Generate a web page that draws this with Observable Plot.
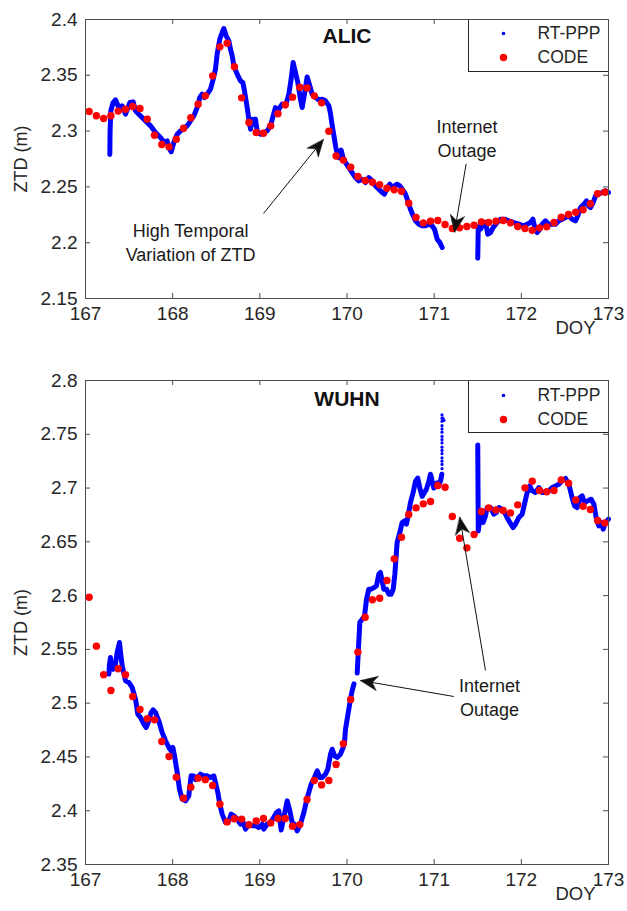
<!DOCTYPE html>
<html>
<head>
<meta charset="utf-8">
<script src="https://cdn.jsdelivr.net/npm/d3@7"></script>
<script src="https://cdn.jsdelivr.net/npm/@observablehq/plot@0.6"></script>
<style>
  html, body { margin: 0; padding: 0; background: #fff; }
  #chart { width: 627px; height: 911px; font-family: "Liberation Sans", Arial, sans-serif; }
  #chart svg { display: block; }
</style>
</head>
<body>
<div id="chart"></div>
<script>
// ---------- data ----------
const stationNames = ["ALIC", "WUHN"];
const seriesNames = ["RT-PPP", "CODE"];
const xTicks = [167, 168, 169, 170, 171, 172, 173];
const alicYTicks = [2.15, 2.2, 2.25, 2.3, 2.35, 2.4];
const wuhnYTicks = [2.35, 2.4, 2.45, 2.5, 2.55, 2.6, 2.65, 2.7, 2.75, 2.8];

// CODE epochs (DOY)
const codeDoy = [
  167.0417, 167.125, 167.2083, 167.2917, 167.375, 167.4583, 167.5417, 167.625, 167.7083, 167.7917, 167.875, 167.9583,
  168.0417, 168.125, 168.2083, 168.2917, 168.375, 168.4583, 168.5417, 168.625, 168.7083, 168.7917, 168.875, 168.9583,
  169.0417, 169.125, 169.2083, 169.2917, 169.375, 169.4583, 169.5417, 169.625, 169.7083, 169.7917, 169.875, 169.9583,
  170.0417, 170.125, 170.2083, 170.2917, 170.375, 170.4583, 170.5417, 170.625, 170.7083, 170.7917, 170.875, 170.9583,
  171.0417, 171.125, 171.2083, 171.2917, 171.375, 171.4583, 171.5417, 171.625, 171.7083, 171.7917, 171.875, 171.9583,
  172.0417, 172.125, 172.2083, 172.2917, 172.375, 172.4583, 172.5417, 172.625, 172.7083, 172.7917, 172.875, 172.9583
];
const alicCodeZtd = [
  2.3176, 2.3137, 2.3113, 2.3137, 2.3179, 2.3196, 2.3220, 2.3202, 2.3107, 2.2963, 2.2880, 2.2859,
  2.2927, 2.3026, 2.3119, 2.3241, 2.3316, 2.3495, 2.3755, 2.3788, 2.3576, 2.3298, 2.3077, 2.2987,
  2.2981, 2.3047, 2.3155, 2.3236, 2.3304, 2.3393, 2.3386, 2.3316, 2.3253, 2.2999, 2.2777, 2.2740,
  2.2677, 2.2593, 2.2557, 2.2542, 2.2519, 2.2488, 2.2474, 2.2461, 2.2354, 2.2226, 2.2178, 2.2193,
  2.2199, 2.2163, 2.2127, 2.2133, 2.2145, 2.2157, 2.2187, 2.2181, 2.2193, 2.2199, 2.2178, 2.2145,
  2.2127, 2.2112, 2.2133, 2.2142, 2.2181, 2.2229, 2.2253, 2.2273, 2.2295, 2.2349, 2.2438, 2.2452
];
const wuhnCodeZtd = [
  2.5985, 2.5530, 2.5264, 2.5118, 2.5320, 2.5264, 2.5062, 2.4942, 2.4855, 2.4845, 2.4644, 2.4504,
  2.4312, 2.4117, 2.4219, 2.4303, 2.4289, 2.4234, 2.4060, 2.3896, 2.3925, 2.3922, 2.3870, 2.3905,
  2.3927, 2.3887, 2.3927, 2.3927, 2.3855, 2.3871, 2.4105, 2.4281, 2.4240, 2.4281, 2.4430, 2.4622,
  2.5034, 2.5475, 2.5799, 2.5961, 2.5976, 2.6140, 2.6342, 2.6543, 2.6754, 2.6816, 2.6853, 2.6875,
  2.7024, 2.7008, 2.6735, 2.6534, 2.6444, 2.6568, 2.6782, 2.6816, 2.6797, 2.6791, 2.6769, 2.6844,
  2.7002, 2.7064, 2.6977, 2.6965, 2.6977, 2.7076, 2.7045, 2.6890, 2.6831, 2.6800, 2.6698, 2.6676
];

// RT-PPP (null = outage gap)
const alicRtDoy = [
  167.279, 167.282, 167.290, 167.317, 167.344, 167.394, 167.421, 167.459, 167.509, 167.547, 167.574, 167.612,
  167.669, 167.707, 167.746, 167.803, 167.860, 167.906, 167.937, 167.956, 167.983, 168.013, 168.052, 168.090,
  168.128, 168.166, 168.205, 168.243, 168.281, 168.312, 168.338, 168.365, 168.396, 168.434, 168.465, 168.491,
  168.510, 168.541, 168.568, 168.587, 168.614, 168.644, 168.663, 168.683, 168.702, 168.740, 168.778, 168.805,
  168.824, 168.855, 168.874, 168.893, 168.912, 168.931, 168.950, 168.969, 169.008, 169.046, 169.084, 169.122,
  169.153, 169.180, 169.199, 169.218, 169.256, 169.294, 169.333, 169.359, 169.382, 169.409, 169.436, 169.466,
  169.486, 169.512, 169.543, 169.573, 169.600, 169.639, 169.677, 169.715, 169.753, 169.792, 169.810, 169.830,
  169.850, 169.870, 169.890, 169.910, 169.933, 169.955, 169.983, 170.021, 170.059, 170.097, 170.136, 170.174,
  170.212, 170.250, 170.289, 170.327, 170.365, 170.403, 170.430, 170.461, 170.491, 170.518, 170.545, 170.575,
  170.606, 170.633, 170.671, 170.698, 170.728, 170.759, 170.786, 170.824, 170.862, 170.900, 170.939, 170.977,
  171.004, 171.034, 171.065, 171.092, 171.300,
  171.500, 171.503, 171.506, 171.531, 171.562, 171.589, 171.615, 171.646, 171.677, 171.723, 171.761, 171.807,
  171.857, 171.914, 171.971, 172.029, 172.067, 172.105, 172.132, 172.155, 172.182, 172.212, 172.239, 172.277,
  172.315, 172.354, 172.392, 172.430, 172.468, 172.507, 172.545, 172.583, 172.621, 172.648, 172.679, 172.717,
  172.748, 172.770, 172.793, 172.824, 172.851, 172.881, 172.927, 172.965, 173.000
];
const alicRtZtd = [
  2.2790, 2.3000, 2.3180, 2.3256, 2.3280, 2.3190, 2.3226, 2.3152, 2.3256, 2.3262, 2.3182, 2.3152,
  2.3107, 2.3077, 2.3047, 2.2987, 2.2943, 2.2898, 2.2913, 2.2853, 2.2815, 2.2898, 2.2972, 2.3002,
  2.3017, 2.3047, 2.3092, 2.3137, 2.3211, 2.3301, 2.3331, 2.3301, 2.3331, 2.3376, 2.3465, 2.3555,
  2.3689, 2.3824, 2.3883, 2.3919, 2.3854, 2.3809, 2.3734, 2.3674, 2.3585, 2.3510, 2.3450, 2.3435,
  2.3361, 2.3211, 2.3107, 2.3017, 2.3107, 2.3062, 2.3107, 2.3002, 2.2972, 2.2987, 2.3002, 2.3047,
  2.3137, 2.3211, 2.3152, 2.3196, 2.3241, 2.3226, 2.3331, 2.3465, 2.3615, 2.3525, 2.3435, 2.3286,
  2.3211, 2.3331, 2.3485, 2.3406, 2.3330, 2.3301, 2.3280, 2.3286, 2.3271, 2.3226, 2.3160, 2.3050,
  2.2960, 2.2860, 2.2790, 2.2760, 2.2830, 2.2760, 2.2718, 2.2674, 2.2629, 2.2584, 2.2554, 2.2569,
  2.2539, 2.2584, 2.2554, 2.2509, 2.2480, 2.2450, 2.2435, 2.2494, 2.2524, 2.2494, 2.2509, 2.2524,
  2.2509, 2.2480, 2.2435, 2.2375, 2.2300, 2.2241, 2.2196, 2.2166, 2.2151, 2.2151, 2.2166, 2.2151,
  2.2121, 2.2031, 2.2002, 2.1957, null,
  2.1860, 2.2000, 2.2142, 2.2121, 2.2166, 2.2181, 2.2076, 2.2091, 2.2136, 2.2181, 2.2211, 2.2211,
  2.2196, 2.2181, 2.2166, 2.2151, 2.2166, 2.2181, 2.2211, 2.2136, 2.2091, 2.2121, 2.2166, 2.2196,
  2.2166, 2.2166, 2.2166, 2.2196, 2.2211, 2.2226, 2.2241, 2.2211, 2.2196, 2.2241, 2.2315, 2.2345,
  2.2375, 2.2330, 2.2315, 2.2360, 2.2420, 2.2435, 2.2450, 2.2465, 2.2450
];

const wuhnRtDoy = [
  167.268, 167.275, 167.287, 167.300, 167.317, 167.344, 167.363, 167.390, 167.405, 167.421, 167.459, 167.497,
  167.535, 167.574, 167.600, 167.631, 167.669, 167.696, 167.727, 167.753, 167.776, 167.803, 167.841, 167.879,
  167.918, 167.956, 167.983, 168.002, 168.021, 168.052, 168.078, 168.109, 168.147, 168.185, 168.212, 168.243,
  168.262, 168.281, 168.319, 168.357, 168.396, 168.434, 168.472, 168.491, 168.518, 168.541, 168.568, 168.606,
  168.644, 168.671, 168.702, 168.740, 168.778, 168.809, 168.836, 168.874, 168.912, 168.950, 168.988, 169.027,
  169.046, 169.084, 169.122, 169.160, 169.191, 169.218, 169.245, 169.275, 169.314, 169.344, 169.371, 169.398,
  169.428, 169.466, 169.505, 169.535, 169.562, 169.589, 169.627, 169.658, 169.688, 169.715, 169.753, 169.780,
  169.811, 169.830, 169.857, 169.887, 169.925, 169.956, 169.971, 169.983, 170.002, 170.021, 170.040, 170.059,
  170.080, 170.100,
  170.117, 170.136, 170.147, 170.174, 170.201, 170.224, 170.250, 170.277, 170.308, 170.338, 170.365, 170.384,
  170.403, 170.422, 170.453, 170.480, 170.507, 170.530, 170.549, 170.575, 170.606, 170.633, 170.660, 170.682,
  170.698, 170.728, 170.759, 170.786, 170.812, 170.835, 170.862, 170.889, 170.912, 170.939, 170.958, 170.977,
  170.996, 171.015, 171.034, 171.053, 171.073, 171.088, 171.300,
  171.500, 171.503, 171.506, 171.531, 171.562, 171.589, 171.608, 171.646, 171.684, 171.715, 171.742, 171.780,
  171.807, 171.837, 171.868, 171.906, 171.933, 171.971, 172.009, 172.036, 172.067, 172.097, 172.124, 172.162,
  172.200, 172.239, 172.277, 172.315, 172.354, 172.392, 172.430, 172.468, 172.507, 172.545, 172.583, 172.610,
  172.641, 172.671, 172.698, 172.725, 172.763, 172.801, 172.832, 172.862, 172.889, 172.916, 172.939, 172.965,
  173.000
];
const wuhnRtZtd = [
  2.5270, 2.5360, 2.5425, 2.5330, 2.5316, 2.5363, 2.5471, 2.5564, 2.5450, 2.5347, 2.5208, 2.5193,
  2.5146, 2.5038, 2.4898, 2.4867, 2.4805, 2.4774, 2.4836, 2.4914, 2.4938, 2.4914, 2.4836, 2.4728,
  2.4650, 2.4588, 2.4557, 2.4588, 2.4511, 2.4356, 2.4201, 2.4108, 2.4092, 2.4139, 2.4325, 2.4324,
  2.4290, 2.4309, 2.4340, 2.4324, 2.4324, 2.4309, 2.4324, 2.4262, 2.4170, 2.4061, 2.3968, 2.3891,
  2.3906, 2.3968, 2.3953, 2.3922, 2.3875, 2.3891, 2.3829, 2.3875, 2.3860, 2.3860, 2.3844, 2.3875,
  2.3829, 2.3875, 2.3891, 2.3937, 2.3984, 2.3999, 2.3820, 2.3937, 2.4092, 2.3999, 2.3891, 2.3875,
  2.3813, 2.3875, 2.3984, 2.4092, 2.4170, 2.4247, 2.4309, 2.4371, 2.4309, 2.4309, 2.4340, 2.4386,
  2.4526, 2.4572, 2.4510, 2.4495, 2.4526, 2.4588, 2.4634, 2.4759, 2.4852, 2.4945, 2.5038, 2.5115,
  2.5180, null,
  2.5280, 2.5580, 2.5750, 2.5781, 2.5812, 2.5967, 2.6060, 2.6060, 2.6075, 2.6091, 2.6199, 2.6215,
  2.6137, 2.6060, 2.6060, 2.6013, 2.6013, 2.6060, 2.6199, 2.6494, 2.6587, 2.6680, 2.6695, 2.6664,
  2.6726, 2.6865, 2.6959, 2.7064, 2.7093, 2.7000, 2.6923, 2.6959, 2.6990, 2.7064, 2.7129, 2.7064,
  2.7000, 2.7031, 2.7048, 2.7031, 2.7064, 2.7129, null,
  2.7400, 2.7000, 2.6600, 2.6773, 2.6680, 2.6742, 2.6819, 2.6819, 2.6757, 2.6773, 2.6819, 2.6804,
  2.6773, 2.6726, 2.6680, 2.6633, 2.6664, 2.6726, 2.6757, 2.6850, 2.6959, 2.7020, 2.6974, 2.6959,
  2.7005, 2.6959, 2.6959, 2.6974, 2.7005, 2.7020, 2.7036, 2.7067, 2.7089, 2.7036, 2.6909, 2.6835,
  2.6819, 2.6912, 2.6927, 2.6865, 2.6881, 2.6896, 2.6850, 2.6711, 2.6649, 2.6680, 2.6618, 2.6680,
  2.6711
];
// sparse RT-PPP epochs just before the WUHN outage (converging spike)
const wuhnSpikeDoy = [
  171.090, 171.090, 171.090, 171.090, 171.090, 171.090, 171.090, 171.090, 171.090,
  171.090, 171.090, 171.090, 171.090, 171.090, 171.090, 171.090, 171.100, 171.112
];
const wuhnSpikeZtd = [
  2.768, 2.765, 2.762, 2.758, 2.755, 2.752, 2.748, 2.745, 2.742,
  2.738, 2.735, 2.732, 2.728, 2.725, 2.722, 2.718, 2.765, 2.763
];

// annotations (anchor positions in data units)
const alicNotes = [
  {label: "High Temporal\nVariation of ZTD", doy: 168.205, ztd: 2.2013},
  {label: "Internet\nOutage", doy: 171.376, ztd: 2.2943}
];
const alicArrows = [
  {doy1: 169.042, ztd1: 2.2262, doy2: 169.730, ztd2: 2.2925},
  {doy1: 171.367, ztd1: 2.2707, doy2: 171.233, ztd2: 2.2094}
];
const wuhnNotes = [
  {label: "Internet\nOutage", doy: 171.635, ztd: 2.5062}
];
const wuhnArrows = [
  {doy1: 171.225, ztd1: 2.5062, doy2: 170.155, ztd2: 2.5211},
  {doy1: 171.589, ztd1: 2.5304, doy2: 171.294, ztd2: 2.6729}
];

// ---------- drawing ----------
const W = 627, ML = 85, MR = 19;
const FONT = "'Liberation Sans', Arial, Helvetica, sans-serif";
const INK = "#262626";
const AXIS = "#4d4d4d";

const headShape = {
  draw(context, l) {
    const w = l * 0.42;
    context.moveTo(0, -l);
    context.lineTo(w, 0);
    context.lineTo(0, -l * 0.3);
    context.lineTo(-w, 0);
    context.closePath();
  }
};

function panel(cfg, filledHeads) {
  const innerH = cfg.height - cfg.marginTop - cfg.marginBottom;
  const innerW = W - ML - MR;
  const yDomain = [cfg.yTicks[0], cfg.yTicks[cfg.yTicks.length - 1]];
  const rt = cfg.rtDoy.map((d, i) => ({doy: d, ztd: cfg.rtZtd[i]}));
  const code = codeDoy.map((d, i) => ({doy: d, ztd: cfg.codeZtd[i]}));
  const spikes = (cfg.spikeDoy || []).map((d, i) => ({doy: d, ztd: cfg.spikeZtd[i]}));

  const sx = Plot.scale({x: {domain: [167, 173], range: [ML, W - MR]}});
  const sy = Plot.scale({y: {domain: yDomain, range: [cfg.height - cfg.marginBottom, cfg.marginTop]}});
  const arrows = cfg.arrows.map(a => {
    const dx = sx.apply(a.doy2) - sx.apply(a.doy1);
    const dy = sy.apply(a.ztd2) - sy.apply(a.ztd1);
    return {...a, angle: Math.atan2(dx, -dy) * 180 / Math.PI};
  });

  const arrowMarks = filledHeads ? [
    Plot.link(arrows, {x1: "doy1", y1: "ztd1", x2: "doy2", y2: "ztd2", stroke: "#111", strokeWidth: 1}),
    Plot.vector(arrows, {x: "doy2", y: "ztd2", rotate: "angle", length: 17, anchor: "end",
      shape: headShape, fill: "#111", stroke: "#111", strokeWidth: 0.5})
  ] : [
    Plot.arrow(arrows, {x1: "doy1", y1: "ztd1", x2: "doy2", y2: "ztd2", stroke: "#111", strokeWidth: 1.2, headLength: 14})
  ];

  const legendTop = cfg.legendDy;
  return Plot.plot({
    width: W, height: cfg.height,
    marginLeft: ML, marginRight: MR, marginTop: cfg.marginTop, marginBottom: cfg.marginBottom,
    style: {fontFamily: FONT, fontSize: "18px", color: INK, background: "#fff"},
    x: {domain: [167, 173]},
    y: {domain: yDomain},
    marks: [
      // axes labels (ticks drawn inward separately)
      Plot.axisX({ticks: xTicks, tickSize: 0, tickPadding: 8, tickFormat: d => String(d), label: null, fontSize: 19, fill: INK}),
      Plot.axisY({ticks: cfg.yTicks, tickSize: 0, tickPadding: 8, tickFormat: d => d3.format(".2~f")(d), label: null, fontSize: 19, fill: INK}),
      // inward ticks on all four sides
      Plot.ruleX(xTicks, {x: d => d, insetTop: innerH - 5, stroke: AXIS}),
      Plot.ruleX(xTicks, {x: d => d, insetBottom: innerH - 5, stroke: AXIS}),
      Plot.ruleY(cfg.yTicks, {y: d => d, insetRight: innerW - 5, stroke: AXIS}),
      Plot.ruleY(cfg.yTicks, {y: d => d, insetLeft: innerW - 5, stroke: AXIS}),
      // data
      Plot.line(rt, {x: "doy", y: "ztd", stroke: "#0000ff", strokeWidth: 5, strokeLinejoin: "round", strokeLinecap: "round"}),
      Plot.dot(spikes, {x: "doy", y: "ztd", r: 1.6, fill: "#0000ff", stroke: null}),
      Plot.dot(code, {x: "doy", y: "ztd", r: 3.7, fill: "#ff0000", stroke: null}),
      // annotations
      ...arrowMarks,
      Plot.text(cfg.notes, {x: "doy", y: "ztd", text: "label", lineAnchor: "middle", textAnchor: "middle",
        lineHeight: 1.33, fontSize: 18, fill: "#1a1a1a"}),
      // station title
      Plot.text([cfg.title], {frameAnchor: "top", text: d => d, dy: cfg.titleDy, lineAnchor: "middle", textAnchor: "middle",
        fontWeight: "bold", fontSize: 21, fill: "#111"}),
      // axis titles
      Plot.text(["ZTD (m)"], {frameAnchor: "left", text: d => d, rotate: -90, dx: -64, textAnchor: "middle", lineAnchor: "middle", fontSize: 18, fill: INK}),
      Plot.text(["DOY"], {frameAnchor: "bottom-right", text: d => d, dx: -33, dy: 30, textAnchor: "middle", lineAnchor: "middle", fontSize: 18.5, fill: INK}),
      // legend
      Plot.frame({insetLeft: 383, insetBottom: innerH - 52, fill: "#fff", stroke: INK, strokeWidth: 1}),
      Plot.dot([seriesNames[0]], {frameAnchor: "top-right", dx: -105, dy: legendTop, r: 1.8, fill: "#0000ff", stroke: null}),
      Plot.dot([seriesNames[1]], {frameAnchor: "top-right", dx: -105, dy: legendTop + 24, r: 3.7, fill: "#ff0000", stroke: null}),
      Plot.text([seriesNames[0]], {frameAnchor: "top-right", text: d => d, dx: -71, dy: legendTop, textAnchor: "start", lineAnchor: "middle", fontSize: 17.5, fill: INK}),
      Plot.text([seriesNames[1]], {frameAnchor: "top-right", text: d => d, dx: -71, dy: legendTop + 24, textAnchor: "start", lineAnchor: "middle", fontSize: 17.5, fill: INK}),
      // axes box
      Plot.frame({stroke: AXIS, strokeWidth: 1})
    ]
  });
}

function build(filledHeads) {
  const top = panel({
    title: stationNames[0], height: 345, marginTop: 19, marginBottom: 47,
    yTicks: alicYTicks, rtDoy: alicRtDoy, rtZtd: alicRtZtd, codeZtd: alicCodeZtd,
    notes: alicNotes, arrows: alicArrows, titleDy: 17, legendDy: 14
  }, filledHeads);
  const bottom = panel({
    title: stationNames[1], height: 566, marginTop: 35, marginBottom: 47,
    yTicks: wuhnYTicks, rtDoy: wuhnRtDoy, rtZtd: wuhnRtZtd, codeZtd: wuhnCodeZtd,
    spikeDoy: wuhnSpikeDoy, spikeZtd: wuhnSpikeZtd,
    notes: wuhnNotes, arrows: wuhnArrows, titleDy: 19, legendDy: 15
  }, filledHeads);
  return [top, bottom];
}

let charts;
try { charts = build(true); } catch (e) { charts = build(false); }
const host = document.getElementById("chart");
charts.forEach(c => host.appendChild(c));
</script>
</body>
</html>
